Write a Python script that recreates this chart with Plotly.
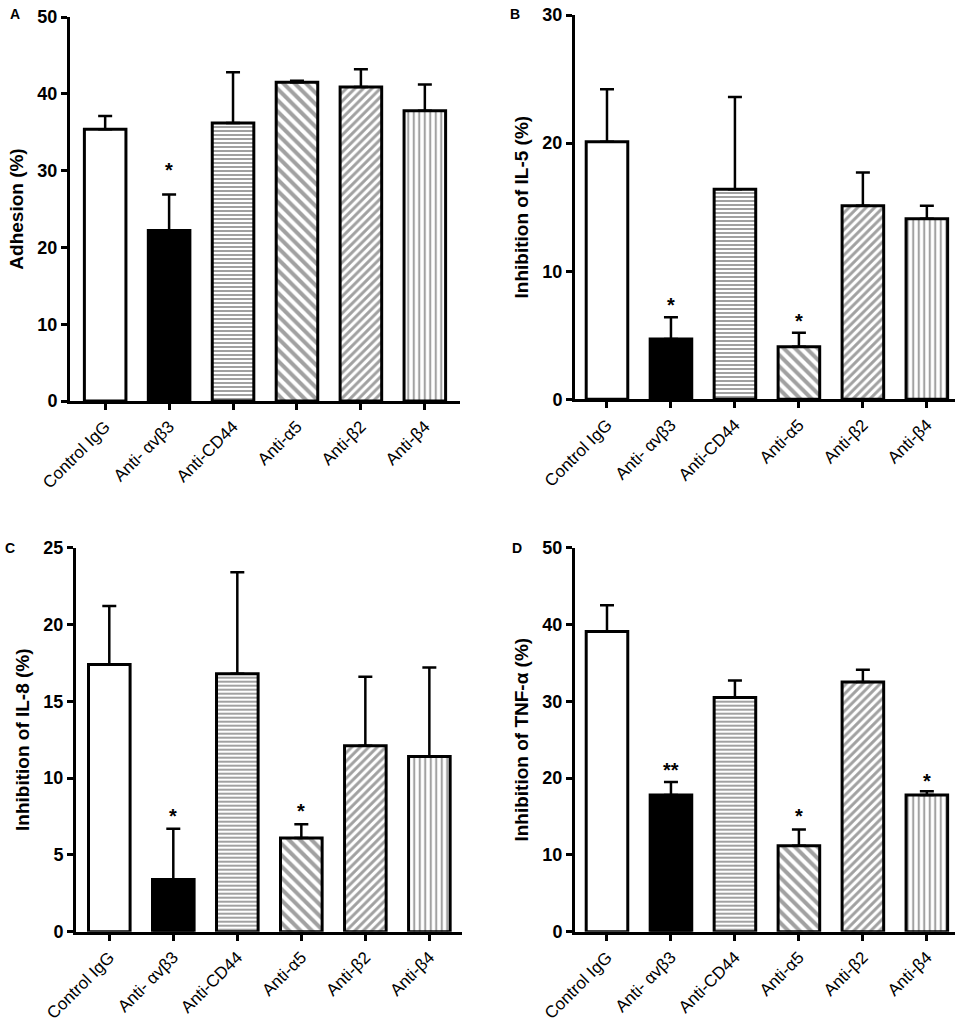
import plotly.graph_objects as go
from plotly.subplots import make_subplots

# categories shared by every panel
groups = ["Control IgG", "Anti- αvβ3", "Anti-CD44", "Anti-α5", "Anti-β2", "Anti-β4"]

# panel A: adhesion
adhesion_mean = [35.4, 22.2, 36.2, 41.5, 40.9, 37.8]
adhesion_err = [1.7, 4.7, 6.6, 0.2, 2.3, 3.4]
adhesion_sig = ["", "*", "", "", "", ""]
adhesion_sig_y = [None, 30.5, None, None, None, None]

# panel B: IL-5
il5_mean = [20.1, 4.7, 16.4, 4.1, 15.1, 14.1]
il5_err = [4.1, 1.7, 7.2, 1.1, 2.6, 1.0]
il5_sig = ["", "*", "", "*", "", ""]
il5_sig_y = [None, 7.6, None, 6.35, None, None]

# panel C: IL-8
il8_mean = [17.4, 3.4, 16.8, 6.1, 12.1, 11.4]
il8_err = [3.8, 3.3, 6.6, 0.9, 4.5, 5.8]
il8_sig = ["", "*", "", "*", "", ""]
il8_sig_y = [None, 7.7, None, 8.05, None, None]

# panel D: TNF-alpha
tnf_mean = [39.1, 17.8, 30.5, 11.2, 32.5, 17.8]
tnf_err = [3.4, 1.7, 2.2, 2.1, 1.6, 0.5]
tnf_sig = ["", "**", "", "*", "", "*"]
tnf_sig_y = [None, 21.5, None, 15.5, None, 20.0]

FONT = "Liberation Sans, Arial, sans-serif"
W, H = 965, 1023


def fx(px):
    return px / W


def fy(px):
    return 1 - px / H


# bar looks (same order as groups)
bar_colors = ["white", "black", "white", "white", "white", "white"]
bar_shapes = ["", "", "-", "\\", "/", "|"]
bar_sizes = [6, 6, 4, 8, 6, 5.5]
bar_solid = [0.3, 0.3, 0.5, 0.5, 0.5, 0.38]

panels = [
    dict(mean=adhesion_mean, err=adhesion_err, sig=adhesion_sig, sig_y=adhesion_sig_y,
         title="Adhesion (%)", yrange=[0, 50], dtick=10, letter="A",
         xdom=[fx(70), fx(460)], ydom=[fy(401), fy(17)], xrange=[-0.55, 5.55]),
    dict(mean=il5_mean, err=il5_err, sig=il5_sig, sig_y=il5_sig_y,
         title="Inhibition of IL-5 (%)", yrange=[0, 30], dtick=10, letter="B",
         xdom=[fx(575), fx(955)], ydom=[fy(399.3), fy(15)], xrange=[-0.5, 5.44]),
    dict(mean=il8_mean, err=il8_err, sig=il8_sig, sig_y=il8_sig_y,
         title="Inhibition of IL-8 (%)", yrange=[0, 25], dtick=5, letter="C",
         xdom=[fx(76), fx(462)], ydom=[fy(931.7), fy(547.7)], xrange=[-0.52, 5.51]),
    dict(mean=tnf_mean, err=tnf_err, sig=tnf_sig, sig_y=tnf_sig_y,
         title="Inhibition of TNF-α (%)", yrange=[0, 50], dtick=10, letter="D",
         xdom=[fx(575), fx(955)], ydom=[fy(931.7), fy(547.7)], xrange=[-0.5, 5.44]),
]
letter_pos = {"A": (8, 14), "B": (508, 14), "C": (3, 548), "D": (510, 548)}

fig = make_subplots(rows=2, cols=2)

for i, p in enumerate(panels):
    row, col = i // 2 + 1, i % 2 + 1
    fig.add_trace(go.Bar(
        x=groups, y=p["mean"], width=0.65,
        marker=dict(color=bar_colors,
                    line=dict(color="black", width=3),
                    pattern=dict(shape=bar_shapes, size=bar_sizes, solidity=bar_solid,
                                 fgcolor="black", bgcolor="white")),
        error_y=dict(type="data", symmetric=False, array=p["err"],
                     arrayminus=[0] * len(groups), color="black", thickness=2.5, width=7),
        showlegend=False,
    ), row=row, col=col)

    n = "" if i == 0 else str(i + 1)
    fig.layout["xaxis" + n].update(
        domain=p["xdom"], range=p["xrange"], showline=True, linewidth=3, linecolor="black",
        ticks="outside", ticklen=6, tickwidth=2.5, tickcolor="black", tickangle=-45,
        showgrid=False, zeroline=False, automargin=False, ticklabeloverflow="allow",
        tickfont=dict(family=FONT, size=17, color="black"))
    fig.layout["yaxis" + n].update(
        domain=p["ydom"], range=p["yrange"], dtick=p["dtick"], showline=True, linewidth=3,
        linecolor="black", ticks="outside", ticklen=6, tickwidth=2.5, tickcolor="black",
        showgrid=False, zeroline=False, automargin=False, ticklabeloverflow="allow",
        tickfont=dict(family=FONT, size=18, color="black", weight="bold"),
        title=dict(text=p["title"], standoff=9,
                   font=dict(family=FONT, size=19, color="black", weight="bold")))

    for g, s, sy in zip(groups, p["sig"], p["sig_y"]):
        if s:
            fig.add_annotation(x=g, y=sy, text=s, showarrow=False, yshift=-3,
                               xref="x" + n, yref="y" + n,
                               font=dict(family=FONT, size=20, color="black", weight="bold"))

    lx, ly = letter_pos[p["letter"]]
    fig.add_annotation(x=fx(lx), y=fy(ly), xref="paper", yref="paper",
                       text=p["letter"], showarrow=False, xanchor="left", yanchor="middle",
                       font=dict(family=FONT, size=14, color="black", weight="bold"))

fig.update_layout(
    width=W, height=H, margin=dict(l=0, r=0, t=0, b=0),
    plot_bgcolor="white", paper_bgcolor="white", bargap=0.3,
)

# the page's default body margin would push the figure off the window
fig.write_html("out.html", config={"displayModeBar": False},
               post_script="document.body.style.margin = '0';")
